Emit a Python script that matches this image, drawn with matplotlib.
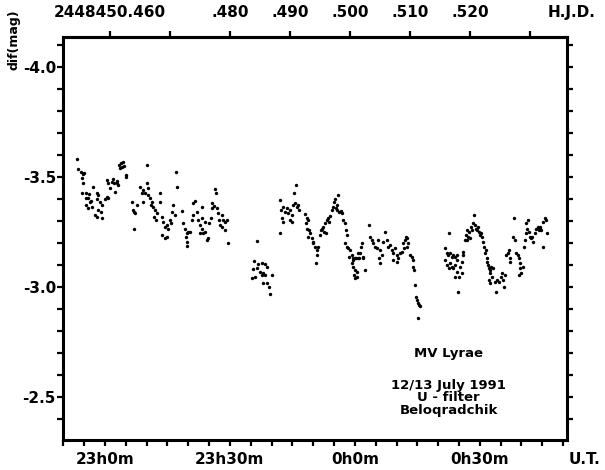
import numpy as np
import matplotlib
matplotlib.use("Agg")
import matplotlib.pyplot as plt
from matplotlib.ticker import MultipleLocator, FixedLocator

plt.rcParams['axes.unicode_minus'] = False
plt.rcParams['font.family'] = 'DejaVu Sans'
plt.rcParams['font.weight'] = 'bold'

# time in minutes after 23h0m U.T., magnitude difference
t1 = [-6.6, -6.4, -5.8, -5.2, -5.0, -5.6, -5.2, -5.4, -4.6, -3.8, -4.0, -4.6, -3.6,
      -2.8, -2.0, -1.6, -1.8, -1.2, -0.8, -1.6, -1.0, -0.64, -2.0, -2.4, -3.2, -4.6, -4.0, -3.4,
      0.4, 0.8, 1.6, 2.24, 2.8, 3.2, 2.4, 1.2, 0.4, 0.8, 0.0, 2.0, 2.8,
      3.36, 3.84, 4.4, 4.64, 5.0, 5.04, 3.6, 4.2,
      10.0,
      6.4, 6.8, 7.2, 7.6, 7.04, 7.04,
      8.4, 9.2, 10.0, 10.24, 9.6, 8.8, 9.2, 10.4, 10.8, 11.2, 11.04, 11.6, 12.0, 12.4,
      11.84, 12.16, 13.2, 13.2, 13.6, 14.0, 14.4, 15.2, 14.8, 15.6, 16.0, 16.4, 16.8,
      15.84, 13.6, 14.4, 14.8,
      17.04, 17.28,
      18.56, 18.8, 19.2, 19.6, 19.36, 20.0, 20.4, 19.6, 19.6, 20.8, 21.2, 21.6, 21.2, 22.0,
      22.4, 22.8, 23.2, 23.6, 22.8, 24.0, 23.2, 23.2, 24.0, 24.4, 24.8, 24.96, 25.44, 25.76,
      25.6, 26.24, 26.56, 26.4, 26.8, 27.2, 27.36, 28.0, 28.4, 28.8, 29.2, 28.0, 27.6, 28.8, 29.44]
m1 = [-3.580, -3.535, -3.524, -3.516, -3.520, -3.494, -3.471, -3.426, -3.429, -3.423, -3.403, -3.403, -3.388,
      -3.453, -3.429, -3.418, -3.398, -3.388, -3.373, -3.350, -3.342, -3.312, -3.320, -3.327, -3.365, -3.373, -3.357, -3.392,
      -3.486, -3.471, -3.479, -3.471, -3.483, -3.463, -3.433, -3.448, -3.410, -3.403, -3.398, -3.489, -3.471,
      -3.554, -3.562, -3.570, -3.550, -3.509, -3.498, -3.540, -3.545,
      -3.557,
      -3.388, -3.350, -3.335, -3.373, -3.342, -3.266,
      -3.456, -3.441, -3.471, -3.448, -3.426, -3.426, -3.388, -3.418, -3.403, -3.388, -3.373, -3.365, -3.350, -3.335,
      -3.320, -3.304, -3.429, -3.388, -3.320, -3.297, -3.274, -3.266, -3.282, -3.304, -3.342, -3.373, -3.327,
      -3.289, -3.236, -3.221, -3.229,
      -3.524, -3.453,
      -3.347, -3.289, -3.262, -3.244, -3.229, -3.251, -3.251, -3.206, -3.186, -3.304, -3.380, -3.392, -3.327, -3.342,
      -3.304, -3.282, -3.266, -3.244, -3.244, -3.251, -3.316, -3.365, -3.297, -3.213, -3.221, -3.289, -3.312, -3.380,
      -3.357, -3.368, -3.426, -3.444, -3.357, -3.335, -3.304, -3.327, -3.304, -3.297, -3.304, -3.274, -3.282, -3.259, -3.201]

t2 = [35.76, 36.8, 37.6, 38.4, 38.8, 35.44, 36.4, 37.2, 38.0, 38.4, 37.6, 40.0, 35.2, 36.0,
      37.84, 38.96, 39.44, 39.6]
m2 = [-3.120, -3.104, -3.107, -3.104, -3.092, -3.080, -3.085, -3.070, -3.065, -3.054, -3.054, -3.054, -3.039, -3.047,
      -3.017, -3.020, -3.001, -2.967]

t3 = [36.56, 42.0,
      42.0, 42.16, 42.8, 42.4, 42.8, 43.2, 43.6, 44.0, 44.4, 44.8, 44.4, 44.8, 45.2, 45.6, 46.0, 46.4, 46.64,
      45.44, 45.84,
      48.0, 48.4, 48.8, 48.24, 48.56, 49.04, 49.2, 48.8, 49.6, 50.0, 50.4, 50.8, 50.96, 50.64, 50.0, 51.2,
      51.6, 51.76, 52.0, 52.4, 52.56, 53.04, 52.8, 53.2, 53.6, 54.0, 53.84, 54.4, 54.8, 54.96, 55.2, 55.44,
      55.76, 56.0, 55.6, 56.24, 56.56, 56.8,
      57.2, 57.6, 57.84, 58.16, 57.6, 58.0, 58.4, 58.8, 58.64, 59.2, 59.6, 60.0, 59.76, 60.0, 60.4, 60.8,
      61.2, 61.36, 61.6, 62.0, 62.4, 60.0, 59.6, 60.8, 59.2, 60.4,
      59.6, 60.24, 61.04, 61.84,
      63.44,
      63.6, 64.0, 64.4, 64.8, 65.2, 65.6, 66.0, 66.4, 65.84, 66.0, 66.8, 67.2, 67.6, 68.0, 68.4, 68.8, 69.2,
      69.6, 70.0, 70.4, 70.8, 69.2, 70.0]
m3 = [-3.210, -3.244,
      -3.395, -3.350, -3.365, -3.312, -3.297, -3.342, -3.357, -3.335, -3.350, -3.327, -3.304, -3.297, -3.373, -3.380,
      -3.365, -3.373, -3.350,
      -3.429, -3.466,
      -3.332, -3.312, -3.304, -3.289, -3.266, -3.259, -3.244, -3.229, -3.221, -3.198, -3.183, -3.168, -3.145, -3.107,
      -3.206, -3.183,
      -3.236, -3.259, -3.266, -3.274, -3.251, -3.244, -3.289, -3.304, -3.312, -3.323, -3.297, -3.350, -3.365, -3.388,
      -3.398, -3.357, -3.350, -3.418, -3.373, -3.342, -3.347, -3.335,
      -3.304, -3.289, -3.259, -3.236, -3.198, -3.183, -3.176, -3.168, -3.138, -3.107, -3.092, -3.077, -3.054, -3.039,
      -3.070, -3.130, -3.153, -3.183, -3.198, -3.130, -3.077, -3.130, -3.123, -3.153, -3.145, -3.047,
      -3.130, -3.130, -3.130, -3.135,
      -3.282,
      -3.229, -3.213, -3.198, -3.183, -3.176, -3.213, -3.168, -3.145, -3.130, -3.110, -3.206, -3.251, -3.213, -3.183,
      -3.191, -3.168, -3.153, -3.176, -3.145, -3.130, -3.153, -3.123, -3.115]

t4 = [71.6, 72.0, 72.24, 72.56, 71.76, 72.4, 72.8, 71.2, 73.2, 73.6, 73.84, 74.0, 74.16, 74.4, 74.64,
      74.96, 75.2, 75.44, 75.6, 75.2]
m4 = [-3.198, -3.213, -3.229, -3.221, -3.176, -3.183, -3.198, -3.160, -3.145, -3.138, -3.123, -3.092, -3.077,
      -3.009, -2.956, -2.941, -2.926, -2.918, -2.912, -2.857]

t5 = [81.6, 82.0, 82.4, 82.8, 83.2, 83.6, 84.0, 84.4, 81.6, 82.0, 82.8, 83.2, 83.6, 82.64, 84.0, 84.4,
      84.56, 85.04, 84.0, 84.8, 82.64, 85.2, 85.6, 85.84, 86.0, 85.6,
      86.4, 86.64, 86.8, 87.2, 87.44, 87.76, 88.0, 88.24, 88.56, 88.8, 89.04, 89.36, 89.6, 89.84, 90.0,
      90.16, 90.4, 86.8, 87.6,
      90.64, 90.96, 91.44, 91.2, 91.6, 91.76, 92.0, 92.24, 92.56, 92.8, 93.2, 92.4, 92.24, 92.56, 93.04,
      93.6, 93.84, 94.16, 94.64, 95.2, 95.6, 95.76, 96.0, 95.44,
      96.4, 96.8, 97.2, 97.36, 97.04, 98.0, 98.4, 98.16, 98.8, 99.2, 99.44, 99.6, 99.76, 99.44, 100.0,
      100.4, 100.56, 100.8, 101.04, 101.36, 101.6, 101.2, 101.84, 102.0, 102.4, 102.8, 102.64, 103.2,
      103.6, 104.0, 104.24, 104.4, 104.8, 105.2, 105.6, 106.0, 106.16, 105.2, 104.4]
m5 = [-3.176, -3.153, -3.145, -3.153, -3.138, -3.145, -3.138, -3.145, -3.123, -3.100, -3.107, -3.092, -3.085,
      -3.085, -3.100, -3.123, -3.070, -3.047, -3.047, -2.979, -3.247, -3.092, -3.115, -3.145, -3.160, -3.062,
      -3.213, -3.236, -3.259, -3.229, -3.251, -3.274, -3.259, -3.289, -3.327, -3.282, -3.266, -3.259, -3.274,
      -3.251, -3.236, -3.244, -3.229, -3.213, -3.221,
      -3.206, -3.183, -3.168, -3.153, -3.130, -3.115, -3.100, -3.085, -3.077, -3.092, -3.085, -3.062, -3.032,
      -3.020, -3.047, -3.024, -2.979, -3.032, -3.024, -3.047, -3.032, -3.001, -3.054, -3.062,
      -3.145, -3.153, -3.130, -3.115, -3.168, -3.229, -3.213, -3.316, -3.153, -3.145, -3.130, -3.107, -3.085,
      -3.054, -3.062, -3.092, -3.183, -3.213, -3.244, -3.266, -3.304, -3.289, -3.251, -3.229, -3.221, -3.206,
      -3.229, -3.244, -3.266, -3.271, -3.259, -3.274, -3.259, -3.297, -3.312, -3.304, -3.244, -3.183, -3.262]

ut_major = [0, 30, 60, 90]
ut_labels = ["23h0m", "23h30m", "0h0m", "0h30m"]
hjd_ticks = [0.460, 0.470, 0.480, 0.490, 0.500, 0.510, 0.520, 0.530]
hjd_labels = ["2448450.460", "", ".480", ".490", ".500", ".510", ".520", ""]
mag_ticks = [-4.0, -3.5, -3.0, -2.5]

# HJD .460 falls 1.2 min after 23h0m U.T.
def t2hjd(t):
    return 0.460 + (np.asarray(t) - 1.2) / 1440.0

def hjd2t(h):
    return 1.2 + (np.asarray(h) - 0.460) * 1440.0


fig = plt.figure(figsize=(6.05, 4.70), dpi=100)
ax = fig.add_axes([0.104, 0.064, 0.833, 0.857])

for t, m in [(t1, m1), (t2, m2), (t3, m3), (t4, m4), (t5, m5)]:
    ax.scatter(t, m, s=6, c='black', linewidths=0)

ax.set_xlim(-10.1, 110.9)
ax.set_ylim(-2.305, -4.136)

for sp in ax.spines.values():
    sp.set_linewidth(2.2)

ax.yaxis.set_major_locator(FixedLocator(mag_ticks))
ax.yaxis.set_minor_locator(MultipleLocator(0.1))
ax.set_yticklabels(["%.1f" % v for v in mag_ticks])
ax.xaxis.set_major_locator(FixedLocator(ut_major))
ax.xaxis.set_minor_locator(MultipleLocator(5))
ax.set_xticklabels(ut_labels)

ax.tick_params(which='both', direction='out', width=1.6, labelsize=11)
ax.tick_params(axis='y', which='both', right=True, length=4, pad=1)
ax.tick_params(axis='x', which='both', length=4, pad=5)

sec = ax.secondary_xaxis('top', functions=(t2hjd, hjd2t))
sec.set_xticks(hjd_ticks)
sec.set_xticklabels(hjd_labels)
sec.tick_params(direction='out', length=4, width=1.6, labelsize=11, pad=8)
sec.spines['top'].set_linewidth(2.2)

fig.text(585 / 605, 1 - 460 / 470, "U.T.", ha='center', va='center', fontsize=11)
fig.text(572 / 605, 1 - 13 / 470, "H.J.D.", ha='center', va='center', fontsize=11)
fig.text(14 / 605, 1 - 40 / 470, "dif(mag)", rotation=90, ha='center', va='center', fontsize=9)

ax.text(0.765, 0.215, "MV Lyrae", transform=ax.transAxes, ha='center', va='center', fontsize=9.5)
ax.text(0.765, 0.105, "12/13 July 1991\nU - filter\nBeloqradchik", transform=ax.transAxes,
        ha='center', va='center', fontsize=9.5, linespacing=0.95)

fig.savefig("out.png", dpi=100)
